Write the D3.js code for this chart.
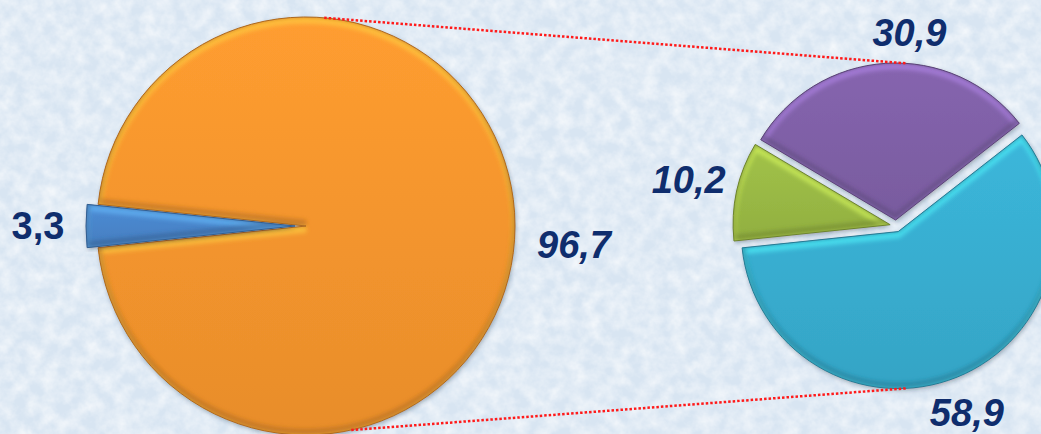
<!DOCTYPE html>
<html>
<head>
<meta charset="utf-8">
<script src="https://cdn.jsdelivr.net/npm/d3@7"></script>
<style>
  html, body { margin: 0; padding: 0; background: #dde9f5; }
  svg { display: block; }
</style>
</head>
<body>
<script>
// main pie
var leftValues = [96.7, 3.3];
var leftColors = ["#f7962e", "#4a86cc"];
// second pie (breakdown)
var rightValues = [58.9, 10.2, 30.9];
var rightColors = ["#39afd2", "#9bbb45", "#8061a8"];

var w = 1041;
var h = 434;

// comma decimal labels
var fmt = d3.formatLocale({decimal: ",", thousands: " ", grouping: [3], currency: ["", ""]}).format(".1f");

var svg = d3.select("body").append("svg")
    .attr("width", w)
    .attr("height", h);

var defs = svg.append("defs");

// paper-like background texture
var noise = defs.append("filter").attr("id", "noise")
    .attr("x", 0).attr("y", 0).attr("width", "100%").attr("height", "100%");
noise.append("feTurbulence")
    .attr("type", "fractalNoise")
    .attr("baseFrequency", 0.07)
    .attr("numOctaves", 4)
    .attr("seed", 7);
noise.append("feColorMatrix")
    .attr("type", "matrix")
    .attr("values", "0 0 0 0 1  0 0 0 0 1  0 0 0 0 1  1.1 0 0 0 -0.32");

var shadow = defs.append("filter").attr("id", "shadow")
    .attr("x", "-10%").attr("y", "-10%").attr("width", "120%").attr("height", "120%");
shadow.append("feDropShadow")
    .attr("dx", 1).attr("dy", 2)
    .attr("stdDeviation", 2)
    .attr("flood-color", "#1c2a3a")
    .attr("flood-opacity", 0.35);

var blur = defs.append("filter").attr("id", "soft");
blur.append("feGaussianBlur").attr("stdDeviation", 2.2);

svg.append("rect").attr("width", w).attr("height", h).attr("fill", "#d8e5f2");
svg.append("rect").attr("width", w).attr("height", h).attr("filter", "url(#noise)");

function gradient(id, c) {
  var g = defs.append("linearGradient").attr("id", id)
      .attr("x1", 0).attr("y1", 0).attr("x2", 0).attr("y2", 1);
  g.append("stop").attr("offset", "0%").attr("stop-color", d3.color(c).brighter(0.12));
  g.append("stop").attr("offset", "100%").attr("stop-color", d3.color(c).darker(0.18));
}

function drawPie(name, values, colors, o) {
  var arcs = d3.pie().sort(null)
      .startAngle(o.start)
      .endAngle(o.start + 2 * Math.PI)(values);
  var arc = d3.arc().innerRadius(0).outerRadius(o.r);
  var labelArc = d3.arc().innerRadius(o.labelR).outerRadius(o.labelR);

  var g = svg.append("g").attr("transform", "translate(" + o.cx + "," + o.cy + ")");

  arcs.forEach(function(a, i) {
    var mid = (a.startAngle + a.endAngle) / 2;
    var off = o.explode[i];
    var dx = off * Math.sin(mid), dy = -off * Math.cos(mid);
    var id = name + i;
    gradient("grad-" + id, colors[i]);
    defs.append("clipPath").attr("id", "clip-" + id)
        .append("path").attr("d", arc(a));

    var s = g.append("g").attr("transform", "translate(" + dx + "," + dy + ")");
    s.append("path")
        .attr("d", arc(a))
        .attr("fill", "url(#grad-" + id + ")")
        .attr("filter", "url(#shadow)");
    // bevel: light edge on top, dark edge on bottom
    var bevel = s.append("g").attr("clip-path", "url(#clip-" + id + ")");
    bevel.append("path")
        .attr("d", arc(a))
        .attr("transform", "translate(0,3)")
        .attr("fill", "none")
        .attr("stroke", d3.color(colors[i]).brighter(1))
        .attr("stroke-width", 7)
        .attr("stroke-opacity", 0.6)
        .attr("filter", "url(#soft)");
    bevel.append("path")
        .attr("d", arc(a))
        .attr("transform", "translate(0,-3)")
        .attr("fill", "none")
        .attr("stroke", d3.color(colors[i]).darker(1.2))
        .attr("stroke-width", 6)
        .attr("stroke-opacity", 0.5)
        .attr("filter", "url(#soft)");
    s.append("path")
        .attr("d", arc(a))
        .attr("fill", "none")
        .attr("stroke", d3.color(colors[i]).darker(1))
        .attr("stroke-width", 1);

    var c = labelArc.centroid(a);
    var nudge = o.nudge[i];
    g.append("text")
        .attr("x", c[0] + nudge[0])
        .attr("y", c[1] + nudge[1])
        .attr("text-anchor", "middle")
        .attr("dominant-baseline", "central")
        .attr("font-family", "'Liberation Sans', Arial, sans-serif")
        .attr("font-weight", "bold")
        .attr("font-style", o.italic[i] ? "italic" : "normal")
        .attr("font-size", "38px")
        .attr("fill", "#0f2d6d")
        .text(fmt(a.data));
  });

  // point on the pie edge at a given angle (degrees, clockwise from top)
  return function(deg, i) {
    var t = deg * Math.PI / 180;
    var dx = 0, dy = 0;
    if (i != null) {
      var mid = (arcs[i].startAngle + arcs[i].endAngle) / 2;
      dx = o.explode[i] * Math.sin(mid);
      dy = -o.explode[i] * Math.cos(mid);
    }
    return [o.cx + dx + o.r * Math.sin(t), o.cy + dy - o.r * Math.cos(t)];
  };
}

var half = leftValues[1] / 100 * Math.PI;   // half of the small slice
var leftEdge = drawPie("l", leftValues, leftColors, {
  cx: 306, cy: 226, r: 209,
  start: 1.5 * Math.PI + half,
  explode: [0, 11],
  labelR: 268,
  nudge: [[0, 19], [0, 0]],
  italic: [true, false]
});

var rightEdge = drawPie("r", rightValues, rightColors, {
  cx: 896, cy: 226, r: 157,
  start: 52 * Math.PI / 180,
  explode: [6, 6, 6],
  labelR: 200,
  nudge: [[-4, 2], [-12, -3], [26, 7]],
  italic: [true, true, true]
});

// connector lines between the two pies
var links = [
  [leftEdge(5), rightEdge(4, 2)],
  [leftEdge(167.5), rightEdge(177, 0)]
];
svg.selectAll("line.link")
  .data(links)
  .enter()
  .append("line")
  .attr("class", "link")
  .attr("x1", function(d) { return d[0][0]; })
  .attr("y1", function(d) { return d[0][1]; })
  .attr("x2", function(d) { return d[1][0]; })
  .attr("y2", function(d) { return d[1][1]; })
  .attr("stroke", "#ff1a1a")
  .attr("stroke-width", 2.5)
  .attr("stroke-dasharray", "2.5,2");
</script>
</body>
</html>
